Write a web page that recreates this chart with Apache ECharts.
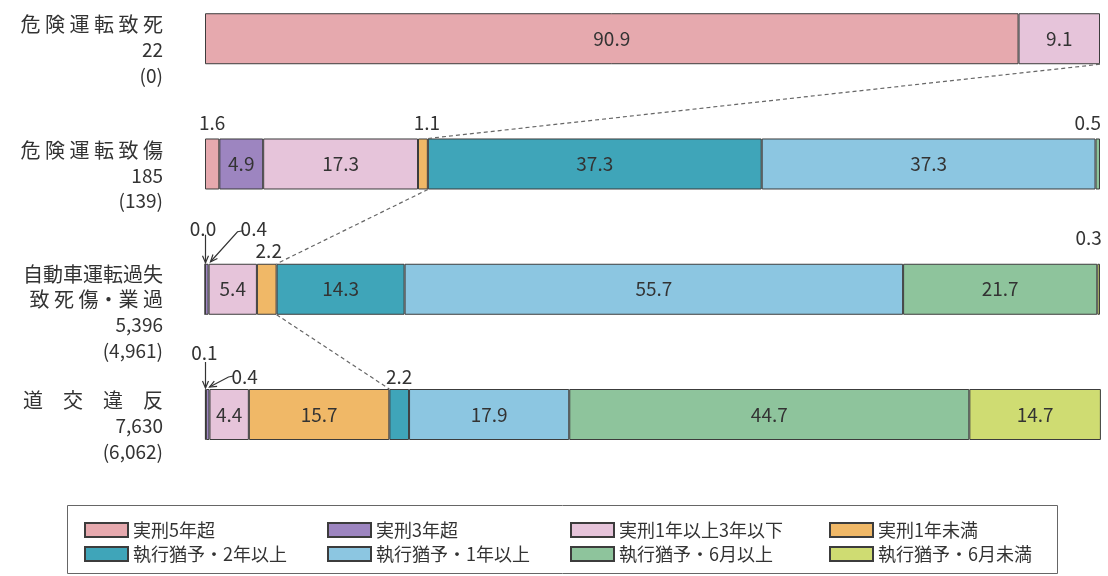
<!DOCTYPE html>
<html><head><meta charset="utf-8">
<script src="https://cdn.jsdelivr.net/npm/echarts@6/dist/echarts.min.js"></script>
<style>html,body{margin:0;padding:0;background:#fff}#c{width:1108px;height:576px}</style>
</head><body><div id="c"></div>
<script>
// ---- data ----
const categories = ['危険運転致死', '危険運転致傷', '自動車運転過失致死傷・業過', '道交違反'];
const categoryLabelLines = [['危 険 運 転 致 死'], ['危 険 運 転 致 傷'], ['自動車運転過失', '致 死 傷・業 過'], ['道　交　違　反']];
const personCounts = ['22', '185', '5,396', '7,630'];
const subCounts = ['(0)', '(139)', '(4,961)', '(6,062)'];
const seriesNames = ['実刑5年超', '実刑3年超', '実刑1年以上3年以下', '実刑1年未満',
  '執行猶予・2年以上', '執行猶予・1年以上', '執行猶予・6月以上', '執行猶予・6月未満'];
const jikkei5 = [90.9, 1.6, 0.0, 0.1];
const jikkei3 = [null, 4.9, 0.4, 0.4];
const jikkei1to3 = [9.1, 17.3, 5.4, 4.4];
const jikkeiUnder1 = [null, 1.1, 2.2, 15.7];
const yuyo2 = [null, 37.3, 14.3, 2.2];
const yuyo1 = [null, 37.3, 55.7, 17.9];
const yuyo6m = [null, 0.5, 21.7, 44.7];
const yuyoUnder6m = [null, null, 0.3, 14.7];
const seriesValues = [jikkei5, jikkei3, jikkei1to3, jikkeiUnder1, yuyo2, yuyo1, yuyo6m, yuyoUnder6m];

(function () {
// ---- styles ----
const FONT = '"Noto Sans CJK JP", "Noto Sans", sans-serif';
const colors = ['#e6a9ae', '#9d85c0', '#e6c4da', '#f0b867', '#3fa5b9', '#8cc6e1', '#8ec49c', '#cfdc72'];
const BAR_W = 51;
// outside label offsets keyed "series,row"
const outsideLabels = {
  '0,1': [0, -1], '3,1': [4, -1], '6,1': [-10, -1],
  '0,2': [-2, -20], '1,2': [47, -20], '3,2': [2, 2], '7,2': [-10, -11],
  '0,3': [-1, -22], '1,3': [37, 2], '4,3': [0, 2]
};

function buildItem(v, s, r) {
  if (v === null) return null;
  const key = s + ',' + r;
  if (outsideLabels[key]) {
    return { value: v, label: { show: true, position: 'top', distance: 5, offset: outsideLabels[key] } };
  }
  if (v >= 4) return { value: v };
  return { value: v, label: { show: false } };
}

const chart = echarts.init(document.getElementById('c'));
const legendCols = [[0, 4], [1, 5], [2, 6], [3, 7]];
const legendLeft = [79, 322, 565, 824];

chart.setOption({
  animation: false,
  textStyle: { fontFamily: FONT },
  grid: { left: 205, right: 8, top: 35.5, height: 379 },
  xAxis: { type: 'value', min: 0, max: 100, show: false },
  yAxis: {
    type: 'category', inverse: true, data: categories, boundaryGap: false,
    axisLine: { show: false }, axisTick: { show: false },
    axisLabel: {
      margin: 42, color: '#333', fontFamily: FONT,
      formatter: function (v, idx) {
        const lines = categoryLabelLines[idx];
        const sp = lines.length === 1 ? 'sp3' : 'sp4';
        return '{' + sp + '| }\n' + lines.map(l => '{nm|' + l + '}').join('\n') +
          '\n{num|' + personCounts[idx] + '}\n{num|' + subCounts[idx] + '}';
      },
      rich: {
        sp3: { fontSize: 1, lineHeight: 23, align: 'right' },
        sp4: { fontSize: 1, lineHeight: 46, align: 'right' },
        nm: { fontSize: 20, lineHeight: 25.5, align: 'right', color: '#333', fontFamily: FONT },
        num: { fontSize: 19, lineHeight: 25.5, align: 'right', color: '#333', fontFamily: FONT }
      }
    }
  },
  legend: legendCols.map((cols, i) => ({
    orient: 'vertical', left: legendLeft[i], top: 516,
    itemWidth: 43, itemHeight: 14, itemGap: 6, icon: 'rect', selectedMode: false,
    data: cols.map(c => seriesNames[c]),
    textStyle: { fontSize: 18, lineHeight: 18, color: '#333', fontFamily: FONT }
  })),
  series: seriesNames.map((name, s) => ({
    name, type: 'bar', stack: 'total', barWidth: BAR_W, clip: false,
    itemStyle: { color: colors[s], borderColor: '#3c3c3c', borderWidth: 1 },
    emphasis: { disabled: true },
    label: {
      show: true, position: 'inside', fontSize: 19, color: '#333', fontFamily: FONT,
      formatter: p => (p.value == null ? '' : Number(p.value).toFixed(1))
    },
    data: seriesValues[s].map((v, r) => buildItem(v, s, r))
  }))
});

// ---- annotations: connectors and arrows ----
function px(x, row) { return chart.convertToPixel({ gridIndex: 0 }, [x, row]); }
function jikkeiSum(r) { let t = 0; for (let s = 0; s < 4; s++) t += (seriesValues[s][r] || 0); return t; }
const g = [];
for (let r = 0; r < categories.length - 1; r++) {
  const a = px(jikkeiSum(r), r), b = px(jikkeiSum(r + 1), r + 1);
  g.push({ type: 'line', shape: { x1: a[0], y1: a[1] + BAR_W / 2, x2: b[0], y2: b[1] - BAR_W / 2 },
    style: { stroke: '#666', lineWidth: 1.2, lineDash: [4, 3] }, z: 10 });
}
function arrow(points) {
  g.push({ type: 'polyline', shape: { points }, style: { stroke: '#333', lineWidth: 1.2, fill: null }, z: 10 });
  const [x1, y1] = points[points.length - 2], [x2, y2] = points[points.length - 1];
  const a = Math.atan2(y2 - y1, x2 - x1), L = 7, W = 3;
  g.push({ type: 'polyline', shape: { points: [
    [x2 - L * Math.cos(a) + W * Math.sin(a), y2 - L * Math.sin(a) - W * Math.cos(a)], [x2, y2],
    [x2 - L * Math.cos(a) - W * Math.sin(a), y2 - L * Math.sin(a) + W * Math.cos(a)]] },
    style: { stroke: '#333', lineWidth: 1.2, fill: null }, z: 10 });
}
// row 3 (index 2)
let p = px(0, 2), barTop = p[1] - BAR_W / 2, x0 = p[0] + 0.5;
arrow([[x0, barTop - 29], [x0, barTop - 1]]);
arrow([[x0 + 38, barTop - 33], [x0 + 32, barTop - 32], [x0 + 5, barTop - 2]]);
// row 4 (index 3)
p = px(0, 3); barTop = p[1] - BAR_W / 2; x0 = p[0] + 0.5;
arrow([[x0, barTop - 27], [x0, barTop - 1]]);
arrow([[x0 + 28, barTop - 13], [x0 + 23, barTop - 12], [x0 + 4, barTop - 2]]);
// legend frame
g.push({ type: 'rect', shape: { x: 67.5, y: 505.5, width: 990, height: 68 },
  style: { fill: null, stroke: '#666', lineWidth: 1 }, z: 0 });
chart.setOption({ graphic: g });
})();
</script>
</body></html>
